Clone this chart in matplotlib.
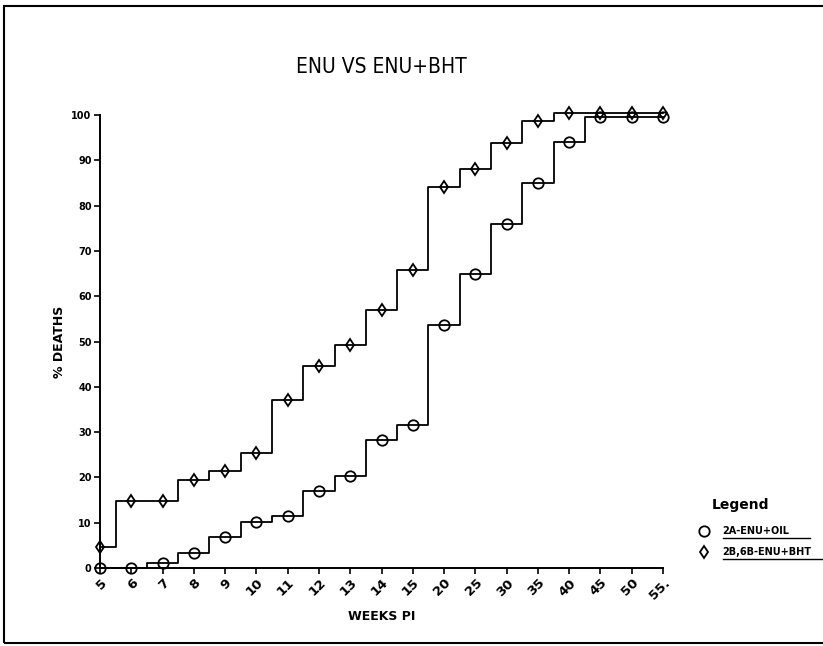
import matplotlib
matplotlib.use("Agg")
import matplotlib.pyplot as plt
from matplotlib.patches import Rectangle
from matplotlib.lines import Line2D
import numpy as np

plt.rcParams['font.family'] = ['DejaVu Sans']

# weeks post injection (categorical, evenly spaced on the chart)
weeks = ['5', '6', '7', '8', '9', '10', '11', '12', '13', '14', '15',
         '20', '25', '30', '35', '40', '45', '50', '55.']

# % deaths
oil = [0, 0, 1.2, 3.3, 6.8, 10.2, 11.4, 17, 20.3, 28.2, 31.6,
       53.7, 64.8, 76, 85, 94, 99.5, 99.5, 99.5]
bht = [4.7, 14.7, 14.7, 19.5, 21.5, 25.3, 37, 44.5, 49.3, 57, 65.7,
       84.2, 88, 93.8, 98.7, 100.5, 100.5, 100.5, 100.5]

labels = ['2A-ENU+OIL', '2B,6B-ENU+BHT']

x = np.arange(len(weeks))

fig = plt.figure(figsize=(8.23, 6.46), dpi=100)
ax = fig.add_axes([0.1215, 0.1207, 0.6841, 0.7013])

ax.step(x, oil, where='mid', color='black', lw=1.3, clip_on=False)
ax.step(x, bht, where='mid', color='black', lw=1.3, clip_on=False)
ax.plot(x, oil, ls='none', marker='o', ms=7.5, mfc='none', mec='black',
        mew=1.3, clip_on=False, label=labels[0])
ax.plot(x, bht, ls='none', marker='d', ms=6.5, mfc='none', mec='black',
        mew=1.3, clip_on=False, label=labels[1])

ax.set_xlim(0, len(weeks) - 1)
ax.set_ylim(0, 100)
ax.set_xticks(x)
ax.set_xticklabels(weeks, rotation=45, ha='right', va='top',
                   rotation_mode='anchor', fontsize=9.5, fontweight='bold')
ax.set_yticks(np.arange(0, 101, 10))
ax.set_yticklabels([str(v) for v in range(0, 101, 10)],
                   fontsize=7, fontweight='bold')
ax.tick_params(axis='both', direction='out', length=4, width=1.2, pad=2)

for s in ['top', 'right']:
    ax.spines[s].set_visible(False)
for s in ['left', 'bottom']:
    ax.spines[s].set_linewidth(1.4)

ax.set_xlabel('WEEKS PI', fontsize=9, fontweight='bold', labelpad=6)
ax.set_ylabel('% DEATHS', fontsize=9, fontweight='bold', labelpad=4)
fig.text(0.463, 0.896, 'ENU VS ENU+BHT', ha='center', va='center',
         fontsize=15, fontstretch='condensed')

leg = ax.legend(loc='upper left', bbox_to_anchor=(0.851, 0.185),
                bbox_transform=fig.transFigure, frameon=False,
                handletextpad=1.5, handlelength=0.8,
                labelspacing=1.1, borderaxespad=0, borderpad=0,
                prop={'size': 7, 'weight': 'bold'})
fig.text(0.865, 0.218, 'Legend', fontsize=10, fontweight='bold',
         ha='left', va='center')

# underline the legend entries
fig.canvas.draw()
r = fig.canvas.get_renderer()
for t in leg.get_texts():
    bb = t.get_window_extent(r).transformed(fig.transFigure.inverted())
    fig.add_artist(Line2D([bb.x0, bb.x1 + 0.025], [bb.y0 - 0.003] * 2,
                          transform=fig.transFigure, color='black', lw=1))

# outer frame of the page
fig.add_artist(Rectangle((0.005, 0.004), 1.0, 0.987,
                         transform=fig.transFigure, fill=False,
                         edgecolor='black', lw=1.5))

fig.savefig('out.png', dpi=100)
